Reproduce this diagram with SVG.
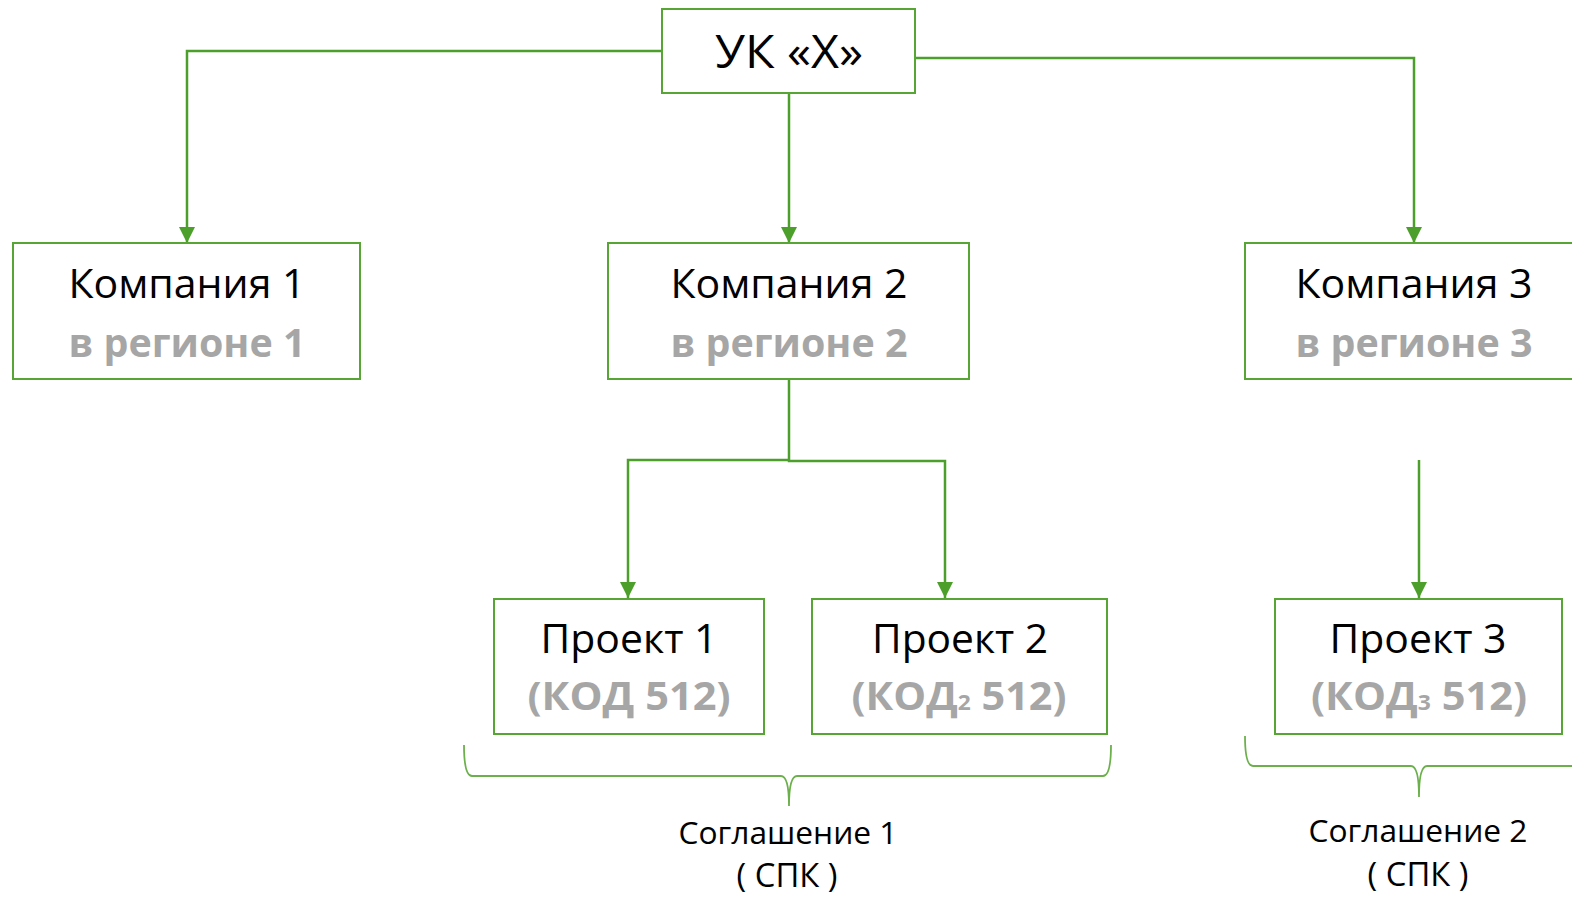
<svg xmlns="http://www.w3.org/2000/svg" width="1572" height="898" viewBox="0 0 1572 898">
<style>
.box{fill:#fff;stroke:#56a535;stroke-width:2}
.c{fill:none;stroke:#4c9f2b;stroke-width:2.5}
.br{fill:none;stroke:#6cb04c;stroke-width:1.8}
.t{font-family:"Open Sans","Noto Sans",sans-serif;text-anchor:middle;fill:#000}
.g{font-family:"Open Sans","Noto Sans",sans-serif;text-anchor:middle;fill:#a6a6a6;font-weight:bold}
</style>
<defs>
<marker id="ah" markerUnits="userSpaceOnUse" markerWidth="16" markerHeight="16" viewBox="0 0 16 16" refX="16" refY="8" orient="auto">
<path d="M0,0 L16,8 L0,16 z" fill="#4c9f2b"/>
</marker>
</defs>
<rect width="1572" height="898" fill="#fff"/>
<g id="connectors">
<path class="c" d="M662,51 H187 V243" marker-end="url(#ah)"/>
<path class="c" d="M789,93 V243" marker-end="url(#ah)"/>
<path class="c" d="M915,58 H1414 V243" marker-end="url(#ah)"/>
<path class="c" d="M789,379 V461 H945 V598" marker-end="url(#ah)"/>
<path class="c" d="M789,460 H628 V598" marker-end="url(#ah)"/>
<path class="c" d="M1419,460 V598" marker-end="url(#ah)"/>
</g>
<g id="uk">
<rect class="box" x="662" y="9" width="253" height="84"/>
<text class="t" x="789" y="68" font-size="46" textLength="148" lengthAdjust="spacingAndGlyphs">УК «Х»</text>
</g>
<g id="company1">
<rect class="box" x="13" y="243" width="347" height="136"/>
<text class="t" x="187" y="298" font-size="40" textLength="237" lengthAdjust="spacingAndGlyphs">Компания 1</text>
<text class="g" x="187" y="357" font-size="40" textLength="237" lengthAdjust="spacingAndGlyphs">в регионе 1</text>
</g>
<g id="company2">
<rect class="box" x="608" y="243" width="361" height="136"/>
<text class="t" x="789" y="298" font-size="40" textLength="237" lengthAdjust="spacingAndGlyphs">Компания 2</text>
<text class="g" x="789" y="357" font-size="40" textLength="237" lengthAdjust="spacingAndGlyphs">в регионе 2</text>
</g>
<g id="company3">
<rect class="box" x="1245" y="243" width="340" height="136"/>
<text class="t" x="1414" y="298" font-size="40" textLength="237" lengthAdjust="spacingAndGlyphs">Компания 3</text>
<text class="g" x="1414" y="357" font-size="40" textLength="237" lengthAdjust="spacingAndGlyphs">в регионе 3</text>
</g>
<g id="project1">
<rect class="box" x="494" y="599" width="270" height="135"/>
<text class="t" x="629" y="653" font-size="40" textLength="177" lengthAdjust="spacingAndGlyphs">Проект 1</text>
<text class="g" x="629" y="710" font-size="40" textLength="203" lengthAdjust="spacingAndGlyphs">(КОД 512)</text>
</g>
<g id="project2">
<rect class="box" x="812" y="599" width="295" height="135"/>
<text class="t" x="960" y="653" font-size="40" textLength="176" lengthAdjust="spacingAndGlyphs">Проект 2</text>
<text class="g" x="959" y="710" font-size="40" textLength="215" lengthAdjust="spacingAndGlyphs">(КОД<tspan font-size="22">2</tspan> 512)</text>
</g>
<g id="project3">
<rect class="box" x="1275" y="599" width="287" height="135"/>
<text class="t" x="1418" y="653" font-size="40" textLength="177" lengthAdjust="spacingAndGlyphs">Проект 3</text>
<text class="g" x="1419" y="710" font-size="40" textLength="216" lengthAdjust="spacingAndGlyphs">(КОД<tspan font-size="22">3</tspan> 512)</text>
</g>
<g id="agreement1">
<path class="br" d="M464,745 Q464,776 472,776 H781 Q789,776 789,806 Q789,776 797,776 H1103 Q1111,776 1111,745"/>
<text class="t" x="788" y="844" font-size="31" textLength="219" lengthAdjust="spacingAndGlyphs">Соглашение 1</text>
<text class="t" x="787" y="887" font-size="32" textLength="101" lengthAdjust="spacingAndGlyphs">( СПК )</text>
</g>
<g id="agreement2">
<path class="br" d="M1245,736 Q1245,766 1253,766 H1411 Q1419,766 1419,797 Q1419,766 1427,766 H1580"/>
<text class="t" x="1418" y="842" font-size="31" textLength="219" lengthAdjust="spacingAndGlyphs">Соглашение 2</text>
<text class="t" x="1418" y="886" font-size="32" textLength="101" lengthAdjust="spacingAndGlyphs">( СПК )</text>
</g>
</svg>
